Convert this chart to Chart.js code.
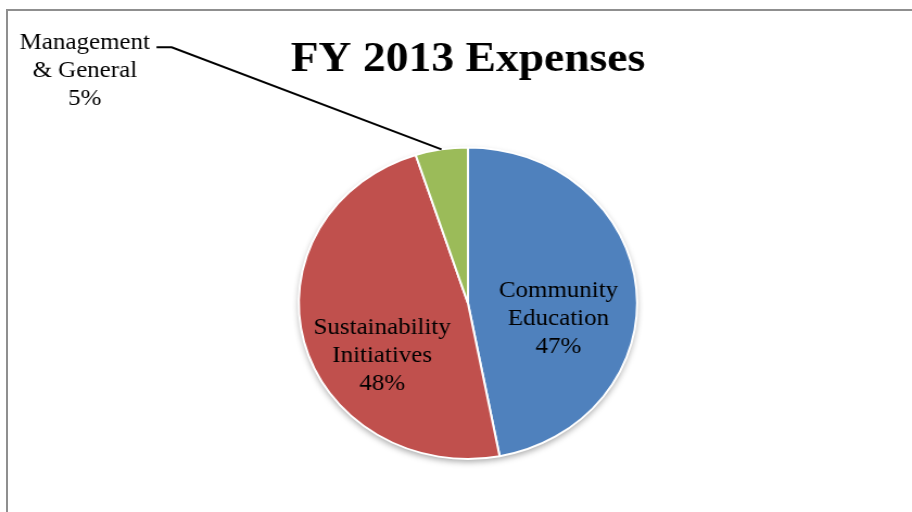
<!DOCTYPE html>
<html>
<head>
<meta charset="utf-8">
<script src="https://cdn.jsdelivr.net/npm/chart.js@4.4.1/dist/chart.umd.min.js"></script>
<style>
  html, body { margin: 0; padding: 0; background: #fff; }
  body { width: 912px; height: 512px; position: relative; overflow: hidden; }
  .frame {
    position: absolute; left: 6px; top: 9px; right: 0; bottom: 0;
    border-top: 2px solid #8f8f8f; border-left: 2px solid #8f8f8f;
  }
  #pie { position: absolute; left: 0; top: 0; }
</style>
</head>
<body>
<div class="frame"></div>
<!-- the source picture is stretched a little sideways, so is the canvas (inline size keeps Chart.js from resetting it) -->
<canvas id="pie" width="840" height="512" style="width: 912px; height: 512px;"></canvas>
<script>
const categories = ['Community Education', 'Sustainability Initiatives', 'Management & General'];
const labelLines = [['Community', 'Education'], ['Sustainability', 'Initiatives'], ['Management', '& General']];
const expenseShares = [47, 48, 5];

const sliceColors = ['#4F81BD', '#C0504D', '#9BBB59'];
// label spot (middle line baseline) in pie radii from the centre
const labelSpots = [[0.535, 0.14], [-0.507, 0.376], [-2.265, -1.45]];
const serif = '"Liberation Serif", "Times New Roman", serif';

// soft shadow under the whole pie
const pieShadow = {
    id: 'pieShadow',
    beforeDatasetsDraw(chart) {
        const arc = chart.getDatasetMeta(0).data[0];
        if (!arc) return;
        const ctx = chart.ctx;
        ctx.save();
        ctx.shadowColor = 'rgba(0, 0, 0, 0.35)';
        ctx.shadowBlur = 6;
        ctx.shadowOffsetY = 3;
        ctx.fillStyle = '#fff';
        ctx.beginPath();
        ctx.arc(arc.x, arc.y, arc.outerRadius, 0, Math.PI * 2);
        ctx.fill();
        ctx.restore();
    }
};

const sliceLabels = {
    id: 'sliceLabels',
    afterDatasetsDraw(chart) {
        const ctx = chart.ctx;
        const meta = chart.getDatasetMeta(0);
        const lineGap = 28;
        ctx.save();
        ctx.font = '23px ' + serif;
        ctx.fillStyle = '#000';
        ctx.textAlign = 'center';
        ctx.textBaseline = 'alphabetic';
        meta.data.forEach((arc, i) => {
            const r = arc.outerRadius;
            const x = arc.x + labelSpots[i][0] * r;
            const y = arc.y + labelSpots[i][1] * r;
            const lines = labelLines[i].concat(expenseShares[i] + '%');
            lines.forEach((t, k) => ctx.fillText(t, x, y + (k - 1) * lineGap));
        });

        // leader line for the small slice
        const small = meta.data[2];
        const r = small.outerRadius;
        const lx = small.x + labelSpots[2][0] * r;
        const ly = small.y + labelSpots[2][1] * r - lineGap;
        const startX = lx + ctx.measureText(labelLines[2][0]).width / 2 + 6;
        const mid = (small.startAngle + small.endAngle) / 2;
        ctx.strokeStyle = '#000';
        ctx.lineWidth = 2;
        ctx.beginPath();
        ctx.moveTo(startX, ly - 2);
        ctx.lineTo(startX + 14, ly - 2);
        ctx.lineTo(small.x + Math.cos(mid) * r, small.y + Math.sin(mid) * r);
        ctx.stroke();
        ctx.restore();
    }
};

new Chart(document.getElementById('pie'), {
    type: 'pie',
    data: {
        labels: categories,
        datasets: [{
            data: expenseShares,
            backgroundColor: sliceColors,
            borderColor: '#ffffff',
            borderWidth: 2
        }]
    },
    options: {
        responsive: false,
        animation: false,
        events: [],
        layout: { padding: { top: 35, bottom: 52, left: 100, right: 78 } },
        plugins: {
            legend: { display: false },
            tooltip: { enabled: false },
            title: {
                display: true,
                text: 'FY 2013 Expenses',
                color: '#000',
                font: { family: serif, size: 42, weight: 'bold' },
                padding: { top: 0, bottom: 61 }
            }
        }
    },
    plugins: [pieShadow, sliceLabels]
});
</script>
</body>
</html>
